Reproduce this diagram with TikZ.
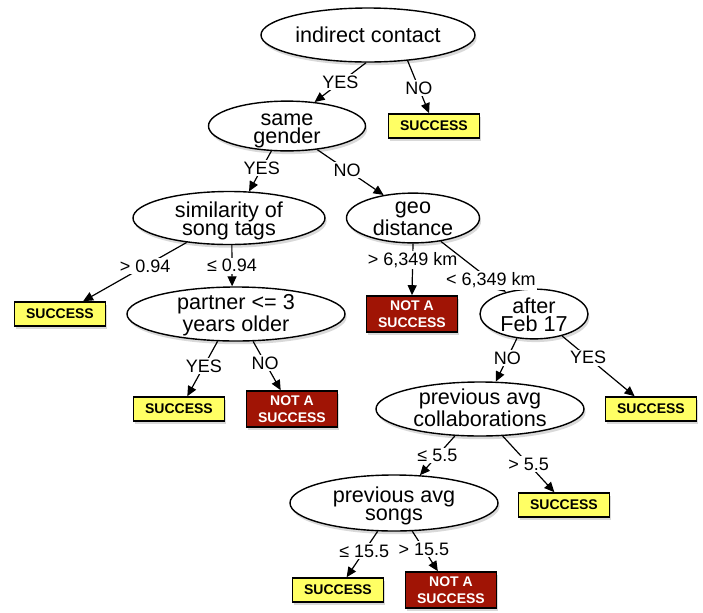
\documentclass[tikz,border=0pt]{standalone}
\usepackage{fontspec}
\setmainfont{Liberation Sans}
\usetikzlibrary{arrows.meta}
\usetikzlibrary{shapes.geometric}
\usetikzlibrary{shadows}
\definecolor{succyellow}{RGB}{255,255,100}
\definecolor{failred}{RGB}{160,20,5}
\tikzset{
  question/.style={ellipse, draw, line width=0.7pt, fill=white, inner sep=0pt,
    align=center, font=\fontsize{10.8}{9.3}\selectfont,
    drop shadow={opacity=0.3, shadow xshift=0.8pt, shadow yshift=-1.6pt}},
  twoline/.style={text height=17.6pt, text depth=0pt},
  success/.style={rectangle, draw, line width=0.8pt, fill=succyellow,
    minimum width=45.5pt, minimum height=12pt, inner sep=0pt,
    font=\fontsize{7}{8.3}\selectfont\bfseries,
    drop shadow={opacity=0.3, shadow xshift=0.8pt, shadow yshift=-1.6pt}},
  failure/.style={success, fill=failred, text=white, minimum height=18pt, align=center},
  branch/.style={draw, line width=0.6pt, -{Triangle[length=5pt,width=4.5pt]}},
  answer/.style={fill=white, inner sep=0.8pt, font=\fontsize{9}{9}\selectfont}
}

\begin{document}
\begin{tikzpicture}[x=0.5pt,y=-0.5pt]
  \useasboundingbox (0,0) rectangle (703,612);
  \node[question, minimum width=107pt, minimum height=27pt] (ic) at (368,35) {indirect contact};
  \node[success] (s1) at ([shift={(66,91)}]ic) {SUCCESS};
  \node[question, twoline, minimum width=78.5pt, minimum height=24pt] (sg) at ([shift={(-81,91)}]ic) {same\\gender};
  \node[question, twoline, minimum width=96pt, minimum height=26.5pt] (sim) at ([shift={(-58,92)}]sg) {similarity of\\song tags};
  \node[question, twoline, minimum width=66.5pt, minimum height=23.5pt] (geo) at ([shift={(126,92)}]sg) {geo\\distance};
  \node[success] (s2) at ([shift={(-169,96)}]sim) {SUCCESS};
  \node[question, twoline, minimum width=109pt, minimum height=27pt] (par) at ([shift={(7,96)}]sim) {partner <= 3\\years older};
  \node[failure] (ns1) at ([shift={(-1,96)}]geo) {NOT A\\SUCCESS};
  \node[question, twoline, minimum width=54pt, minimum height=23.5pt] (aft) at ([shift={(121,96)}]geo) {after\\Feb 17};
  \node[success] (s3) at ([shift={(-57,95)}]par) {SUCCESS};
  \node[failure] (ns2) at ([shift={(56,95)}]par) {NOT A\\SUCCESS};
  \node[question, twoline, minimum width=104pt, minimum height=27pt] (pac) at ([shift={(-54,95)}]aft) {previous avg\\collaborations};
  \node[success] (s4) at ([shift={(117,95)}]aft) {SUCCESS};
  \node[question, twoline, minimum width=104pt, minimum height=28pt] (pas) at ([shift={(-86,94)}]pac) {previous avg\\songs};
  \node[success] (s5) at ([shift={(84,96)}]pac) {SUCCESS};
  \node[success] (s6) at ([shift={(-56,87)}]pas) {SUCCESS};
  \node[failure] (ns3) at ([shift={(57,87)}]pas) {NOT A\\SUCCESS};

  \draw[branch] (ic.266) -- node[answer, pos=.5] {YES} (sg.41);
  \draw[branch] (ic.327) -- node[answer, pos=.52] {NO} (s1.111);
  \draw[branch] (sg.238) -- node[answer, pos=.43] {YES} (sim.53);
  \draw[branch] (sg.322) -- node[answer, pos=.45] {NO} (geo.142);
  \draw[branch] (sim.210) -- node[answer, pos=.4] {> 0.94} (s2.29);
  \draw[branch] (sim.276) -- node[answer, pos=.5] {≤ 0.94} (par.98);
  \draw[branch] (geo.south) -- node[answer, pos=.32] {> 6,349 km} (ns1.north);
  \draw[branch] (geo.320) -- node[answer, pos=.77] {< 6,349 km} (aft.142);
  \draw[branch] (par.236) -- node[answer, pos=.45] {YES} (s3.57);
  \draw[branch] (par.302) -- node[answer, pos=.44] {NO} (ns2.121);
  \draw[branch] (aft.235) -- node[answer, pos=.45] {NO} (pac.60);
  \draw[branch] (aft.322) -- node[answer, pos=.36] {YES} (s4.142);
  \draw[branch] (pac.227) -- node[answer, pos=.5] {≤ 5.5} (pas.47);
  \draw[branch] (pac.310) -- node[answer, pos=.5] {> 5.5} (s5.127);
  \draw[branch] (pas.240) -- node[answer, pos=.43] {≤ 15.5} (s6.56);
  \draw[branch] (pas.303) -- node[answer, pos=.45] {> 15.5} (ns3.125);
\end{tikzpicture}
\end{document}
